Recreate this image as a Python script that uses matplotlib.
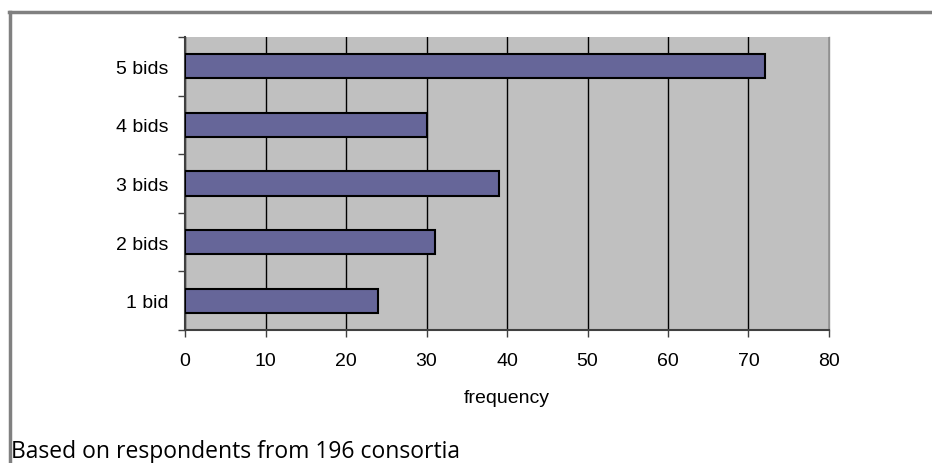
import numpy as np
import matplotlib.pyplot as plt
from matplotlib.lines import Line2D

# bid counts per consortium
categories = ["1 bid", "2 bids", "3 bids", "4 bids", "5 bids"]
frequency = [24, 31, 39, 30, 72]
x_ticks = [0, 10, 20, 30, 40, 50, 60, 70, 80]

fig = plt.figure(figsize=(9.32, 4.64), dpi=100)
plt.rcParams['font.family'] = ['Liberation Sans', 'DejaVu Sans']

ax = fig.add_axes([185/932, 1 - 331/464, (829 - 185)/932, (331 - 38)/464])
ax.set_facecolor("#C0C0C0")

y = np.arange(len(categories))
ax.barh(y, frequency, height=0.41, color="#666699", edgecolor="black", linewidth=1.5, zorder=3)

ax.set_xlim(0, 80)
ax.set_ylim(-0.5, len(categories) - 0.5)
ax.set_xticks(x_ticks)
ax.set_xticklabels([str(v) for v in x_ticks], fontsize=14)
ax.grid(axis="x", color="black", linewidth=1.0, zorder=1)

# category labels in between the boundary ticks
ax.set_yticks(np.arange(-0.5, len(categories), 1.0))
ax.set_yticklabels([])
ax.set_yticks(y, minor=True)
ax.set_yticklabels(categories, minor=True, fontsize=14)
ax.tick_params(axis="y", which="minor", length=0, pad=12)
ax.tick_params(axis="y", which="major", length=5, width=1, color="#404040", direction="out")
ax.tick_params(axis="x", length=5, width=1, color="#404040", direction="out", pad=11)

ax.set_xlabel("frequency", fontsize=14, labelpad=14)

for s in ["left", "bottom"]:
    ax.spines[s].set_color("#404040")
    ax.spines[s].set_linewidth(1.5)
ax.spines["top"].set_visible(False)
ax.spines["right"].set_color("#909090")
ax.spines["right"].set_linewidth(1.0)

# gray frame along the top and left
fig.add_artist(Line2D([9/932, 1], [1 - 13/464, 1 - 13/464], color="#808080", linewidth=2.5,
                      transform=fig.transFigure))
fig.add_artist(Line2D([10/932, 10/932], [0, 1 - 13/464], color="#808080", linewidth=2.5,
                      transform=fig.transFigure))

fig.text(11/932, 1 - 452/464, "Based on respondents from 196 consortia", fontsize=16.5,
         family=["Open Sans", "DejaVu Sans"], va="center", ha="left")

fig.savefig("out.png", dpi=100)
